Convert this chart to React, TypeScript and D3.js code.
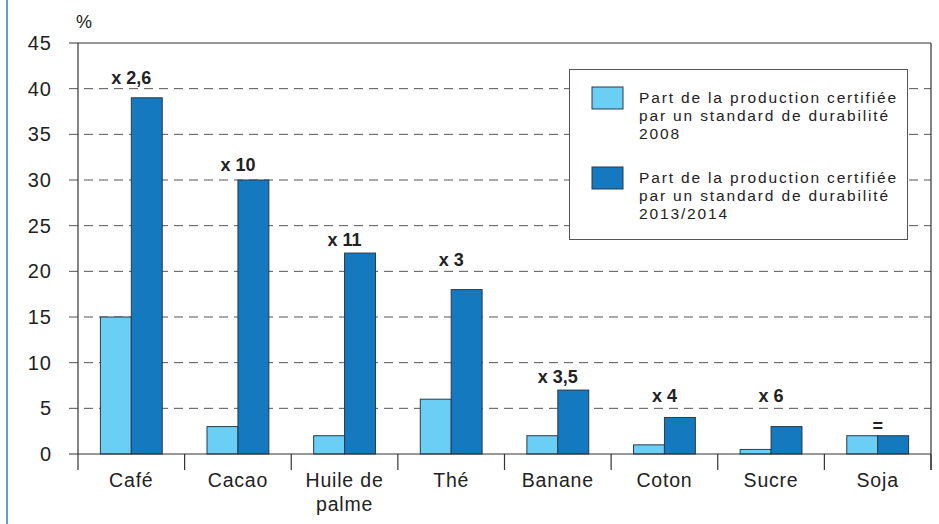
import React from "react";
import * as d3 from "d3";

const categories = ["Café", "Cacao", "Huile de palme", "Thé", "Banane", "Coton", "Sucre", "Soja"];
const categoryLines = [["Café"], ["Cacao"], ["Huile de", "palme"], ["Thé"], ["Banane"], ["Coton"], ["Sucre"], ["Soja"]];
const share2008 = [15, 3, 2, 6, 2, 1, 0.5, 2];
const share2014 = [39, 30, 22, 18, 7, 4, 3, 2];
const annotationText = ["x 2,6", "x 10", "x 11", "x 3", "x 3,5", "x 4", "x 6", "="];
const annotationLevel = [40.5, 31, 22.8, 20.6, 7.8, 5.7, 5.7, 2.4];
const yTicks = [0, 5, 10, 15, 20, 25, 30, 35, 40, 45];
const seriesKeys = ["2008", "2013/2014"];
const seriesColors = ["#6BCFF5", "#1479BF"];
const legendLabels = [
  ["Part de la production certifiée", "par un standard de durabilité", "2008"],
  ["Part de la production certifiée", "par un standard de durabilité", "2013/2014"],
];

const W = 939;
const H = 524;
const FONT = "'Liberation Sans', Arial, sans-serif";

export default function App() {
  const left = 78;
  const right = 931;
  const top = 43;
  const bottom = 454;

  const x0 = d3.scaleBand<string>().domain(categories).range([left, right]).paddingInner(0.42).paddingOuter(0.21);
  const x1 = d3.scaleBand<string>().domain(seriesKeys).range([0, x0.bandwidth()]).padding(0);
  const y = d3.scaleLinear().domain([0, 45]).range([bottom, top]);
  const step = x0.step();
  const series = [share2008, share2014];

  return (
    <svg width={W} height={H} style={{ position: "absolute", left: 0, top: 0, background: "#fff" }} fontFamily={FONT}>
      <rect x={0} y={0} width={W} height={H} fill="#fff" />
      {/* left blue border */}
      <line x1={7} x2={7} y1={0} y2={H} stroke="#2D7DC2" strokeWidth={1.5} />

      {/* % unit */}
      <text x={84} y={28} fontSize={18} textAnchor="middle" fill="#222">%</text>

      {/* grid lines */}
      {yTicks.filter((t) => t > 0 && t < 45).map((t) => (
        <line key={"g" + t} x1={69} x2={right} y1={y(t)} y2={y(t)} stroke="#555" strokeWidth={1} strokeDasharray="9,6" />
      ))}
      {/* top line */}
      <line x1={69} x2={right} y1={y(45)} y2={y(45)} stroke="#333" strokeWidth={1.2} />

      {/* y tick labels */}
      {yTicks.map((t) => (
        <text key={"yt" + t} x={52} y={y(t) + 7} fontSize={20} textAnchor="end" fill="#222" letterSpacing={1}>{t}</text>
      ))}

      {/* bars */}
      {categories.map((c, i) => (
        <g key={"c" + c} transform={`translate(${x0(c)},0)`}>
          {seriesKeys.map((k, s) => (
            <rect
              key={k}
              x={x1(k)}
              y={y(series[s][i])}
              width={x1.bandwidth()}
              height={y(0) - y(series[s][i])}
              fill={seriesColors[s]}
              stroke="#2a3a48"
              strokeWidth={1}
            />
          ))}
        </g>
      ))}

      {/* annotations */}
      {categories.map((c, i) => (
        <text
          key={"a" + c}
          x={(x0(c) as number) + x0.bandwidth() / 2}
          y={y(annotationLevel[i])}
          fontSize={18}
          fontWeight="bold"
          textAnchor="middle"
          fill="#222"
        >
          {annotationText[i]}
        </text>
      ))}

      {/* axes */}
      <line x1={69} x2={right} y1={y(0)} y2={y(0)} stroke="#333" strokeWidth={1.2} />
      <line x1={left} x2={left} y1={top} y2={470} stroke="#333" strokeWidth={1.2} />
      <line x1={right} x2={right} y1={top} y2={470} stroke="#333" strokeWidth={1.2} />
      {categories.map((c, i) => (
        <line key={"tk" + i} x1={left + (i + 1) * step} x2={left + (i + 1) * step} y1={y(0)} y2={470} stroke="#333" strokeWidth={1.2} />
      ))}

      {/* category labels */}
      {categories.map((c, i) => (
        <text key={"cl" + c} x={(x0(c) as number) + x0.bandwidth() / 2} y={487} fontSize={19.5} textAnchor="middle" fill="#222" letterSpacing={0.8}>
          {categoryLines[i].map((ln, j) => (
            <tspan key={j} x={(x0(c) as number) + x0.bandwidth() / 2} dy={j === 0 ? 0 : 24}>{ln}</tspan>
          ))}
        </text>
      ))}

      {/* legend */}
      <g>
        <rect x={569.5} y={69.5} width={338} height={170} fill="#fff" stroke="#555" strokeWidth={1} />
        {seriesKeys.map((k, s) => (
          <g key={"lg" + k} transform={`translate(0,${s * 80})`}>
            <rect x={592} y={87} width={31} height={22} fill={seriesColors[s]} stroke="#2a3a48" strokeWidth={1} />
            {legendLabels[s].map((ln, j) => (
              <text key={j} x={639} y={103 + j * 18} fontSize={15.5} fill="#222" letterSpacing={1.85}>{ln}</text>
            ))}
          </g>
        ))}
      </g>
    </svg>
  );
}
